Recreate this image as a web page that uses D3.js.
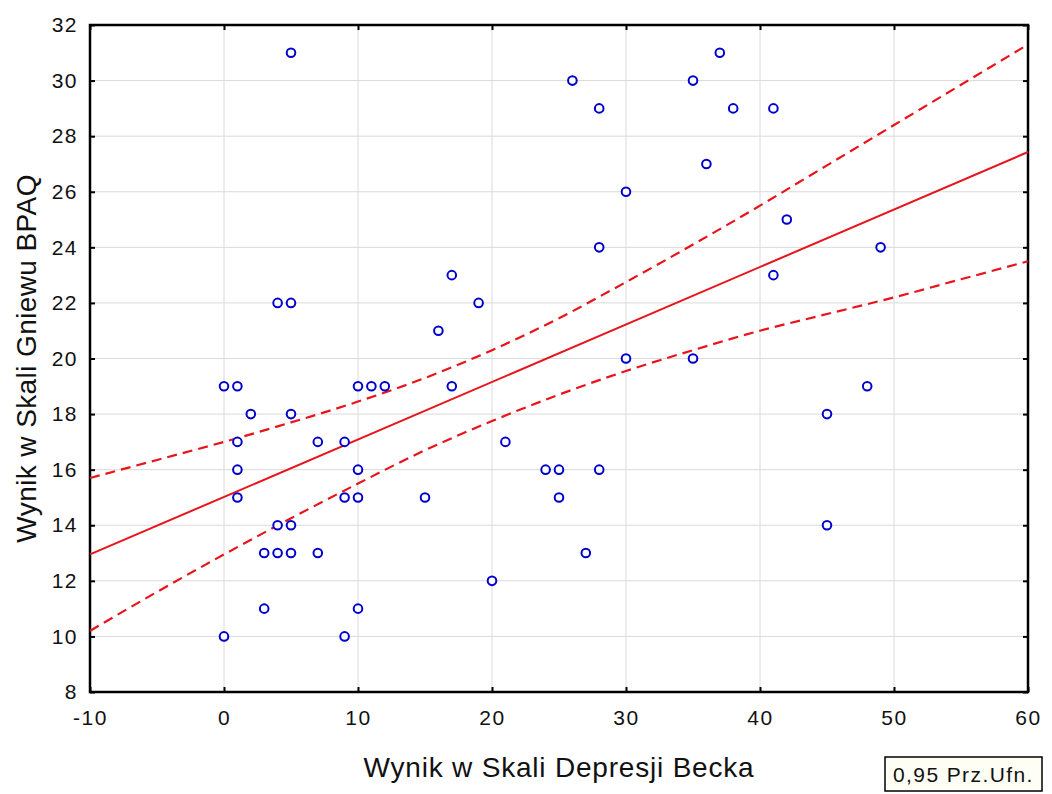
<!DOCTYPE html>
<html lang="pl">
<head>
    <meta charset="UTF-8">
    <title>Wynik BDI vs BPAQ</title>
    <script src="https://cdn.jsdelivr.net/npm/d3@7"></script>
    <style>
        body { margin: 0; background: #fff; }
        svg text { font-family: "Liberation Sans", Arial, sans-serif; fill: #111; }
    </style>
</head>
<body>
<svg id="chart" width="1052" height="794"></svg>

<script>
    // data
    let beck = [0, 1, 2, 1, 1, 1, 0, 3, 4, 5, 4, 5, 3, 4, 5, 5, 5, 7, 7, 9, 9, 10, 10, 9, 10, 10, 11, 12,
        15, 16, 17, 17, 19, 20, 21, 24, 25, 25, 26, 27, 28, 28, 28, 30, 30, 35, 35, 36, 37, 38, 41, 41, 42, 45, 45, 48, 49]
    let bpaq = [19, 19, 18, 17, 16, 15, 10, 13, 13, 13, 14, 14, 11, 22, 22, 31, 18, 17, 13, 17, 15, 15, 16, 10, 11, 19, 19, 19,
        15, 21, 23, 19, 22, 12, 17, 16, 16, 15, 30, 13, 29, 24, 16, 26, 20, 30, 20, 27, 31, 29, 29, 23, 25, 18, 14, 19, 24]

    // fitted line and 0.95 confidence band
    let fitX = [-10, 60]
    let fitY = [12.95, 27.43]
    let bandX = [-10, -5, 0, 5, 10, 15, 20, 25, 30, 35, 40, 45, 50, 55, 60]
    let bandUpper = [15.7, 16.35, 17.0, 17.7, 18.45, 19.3, 20.3, 21.45, 22.75, 24.1, 25.5, 26.95, 28.4, 29.85, 31.3]
    let bandLower = [10.2, 11.6, 12.95, 14.25, 15.5, 16.7, 17.75, 18.7, 19.55, 20.3, 21.0, 21.6, 22.2, 22.85, 23.5]

    let xTicks = [-10, 0, 10, 20, 30, 40, 50, 60]
    let yTicks = [8, 10, 12, 14, 16, 18, 20, 22, 24, 26, 28, 30, 32]

    let plotLeft = 90, plotRight = 1028, plotTop = 25, plotBottom = 692

    let svg = d3.select("#chart")
    let x = d3.scaleLinear().domain([-10, 60]).range([plotLeft, plotRight])
    let y = d3.scaleLinear().domain([8, 32]).range([plotBottom, plotTop])

    // grid
    svg.append("g").selectAll("line").data(xTicks.slice(1, -1)).join("line")
        .attr("x1", d => x(d)).attr("x2", d => x(d)).attr("y1", plotTop).attr("y2", plotBottom)
        .attr("stroke", "#dadada").attr("stroke-width", 1)
    svg.append("g").selectAll("line").data(yTicks.slice(1, -1)).join("line")
        .attr("x1", plotLeft).attr("x2", plotRight).attr("y1", d => y(d)).attr("y2", d => y(d))
        .attr("stroke", "#dadada").attr("stroke-width", 1)

    // axes (ticks pointing inward on all four sides)
    let tickStyle = g => {
        g.select(".domain").remove()
        g.selectAll(".tick line").attr("stroke", "#000").attr("stroke-width", 2)
        g.selectAll(".tick text").style("font-size", "21px").style("letter-spacing", "1.5px").attr("fill", "#111")
    }
    svg.append("g").attr("transform", `translate(0,${plotBottom})`)
        .call(d3.axisBottom(x).tickValues(xTicks).tickFormat(d => String(d)).tickSizeInner(-5).tickPadding(18))
        .call(tickStyle)
    svg.append("g").attr("transform", `translate(0,${plotTop})`)
        .call(d3.axisTop(x).tickValues(xTicks).tickSizeInner(-5).tickFormat(""))
        .call(tickStyle)
    svg.append("g").attr("transform", `translate(${plotLeft},0)`)
        .call(d3.axisLeft(y).tickValues(yTicks).tickSizeInner(-5).tickPadding(12))
        .call(tickStyle)
    svg.append("g").attr("transform", `translate(${plotRight},0)`)
        .call(d3.axisRight(y).tickValues(yTicks).tickSizeInner(-5).tickFormat(""))
        .call(tickStyle)

    // frame
    svg.append("rect").attr("x", plotLeft).attr("y", plotTop)
        .attr("width", plotRight - plotLeft).attr("height", plotBottom - plotTop)
        .attr("fill", "none").attr("stroke", "#000").attr("stroke-width", 2.5)

    // regression and band
    let line = d3.line().x(d => x(d[0])).y(d => y(d[1]))
    svg.append("path").datum(d3.zip(fitX, fitY)).attr("d", line)
        .attr("fill", "none").attr("stroke", "#e8141c").attr("stroke-width", 2)
    let curve = d3.line().x(d => x(d[0])).y(d => y(d[1])).curve(d3.curveMonotoneX)
    for (let band of [bandUpper, bandLower]) {
        svg.append("path").datum(d3.zip(bandX, band)).attr("d", curve)
            .attr("fill", "none").attr("stroke", "#e8141c").attr("stroke-width", 2.2)
            .attr("stroke-dasharray", "10,6")
    }

    // points
    svg.append("g").selectAll("circle").data(d3.zip(beck, bpaq)).join("circle")
        .attr("cx", d => x(d[0])).attr("cy", d => y(d[1])).attr("r", 4.3)
        .attr("fill", "#fff").attr("stroke", "#0000cc").attr("stroke-width", 2)

    // axis titles
    svg.append("text").attr("x", (plotLeft + plotRight) / 2).attr("y", 777)
        .attr("text-anchor", "middle").style("font-size", "28px").style("letter-spacing", "0.8px")
        .text("Wynik w Skali Depresji Becka")
    svg.append("text").attr("transform", `translate(36,${(plotTop + plotBottom) / 2}) rotate(-90)`)
        .attr("text-anchor", "middle").style("font-size", "28px").style("letter-spacing", "0.4px")
        .text("Wynik w Skali Gniewu BPAQ")

    // legend box
    svg.append("rect").attr("x", 885).attr("y", 757).attr("width", 157).attr("height", 34)
        .attr("fill", "#fffef4").attr("stroke", "#000").attr("stroke-width", 1.5)
    svg.append("text").attr("x", 893).attr("y", 782).style("font-size", "21px").style("letter-spacing", "1.4px")
        .text("0,95 Prz.Ufn.")
</script>
</body>
</html>
